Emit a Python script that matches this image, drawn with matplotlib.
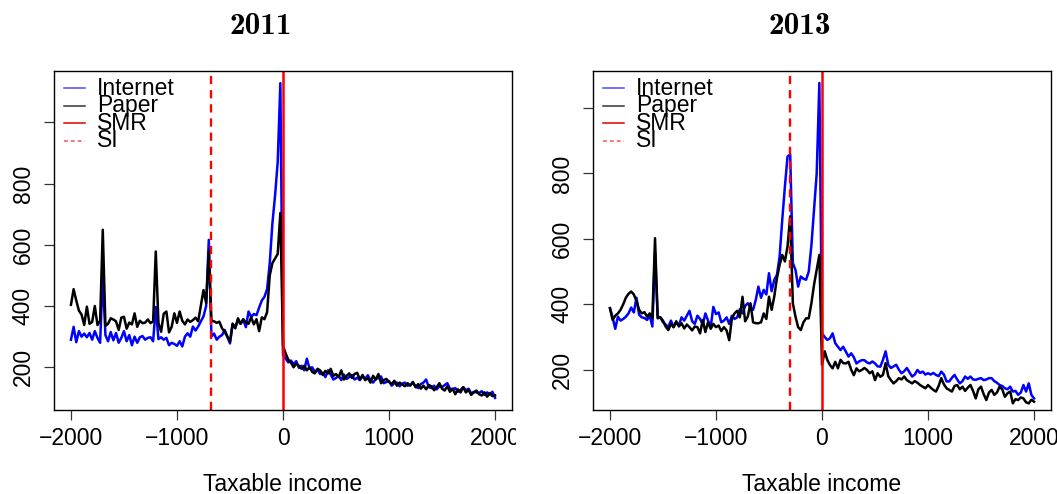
import os
import numpy as np
import matplotlib as mpl
import matplotlib.pyplot as plt
from matplotlib.font_manager import FontProperties
from matplotlib.transforms import Bbox, TransformedBbox

plt.rcParams['font.family'] = ['Liberation Sans', 'DejaVu Sans']

# bin centres of taxable income (relative to threshold)
income = np.arange(-2000, 2001, 25)

internet_2011 = [
    290, 332, 282, 318, 300, 310, 298, 312,
    290, 318, 296, 280, 500, 305, 285, 315,
    288, 312, 280, 296, 318, 285, 305, 272,
    300, 280, 298, 302, 290, 296, 298, 285,
    397, 292, 298, 290, 296, 272, 280, 276,
    270, 285, 268, 300, 311, 300, 333, 320,
    333, 350, 366, 400, 616, 300, 310, 290,
    300, 305, 322, 300, 278, 342, 331, 352,
    342, 355, 331, 382, 364, 374, 370, 395,
    418, 430, 455, 540, 670, 760, 870, 1128,
    240, 228, 216, 222, 210, 220, 198, 205,
    190, 228, 196, 200, 185, 192, 178, 182,
    168, 190, 176, 160, 165, 172, 158, 176,
    162, 168, 175, 160, 166, 158, 170, 162,
    174, 158, 150, 162, 165, 170, 148, 152,
    155, 140, 148, 150, 138, 146, 150, 140,
    142, 150, 138, 132, 145, 150, 160, 135,
    132, 140, 128, 138, 135, 142, 148, 130,
    128, 132, 120, 126, 135, 125, 130, 115,
    120, 118, 116, 122, 110, 118, 112, 120,
    100]

paper_2011 = [
    404, 455, 418, 385, 372, 338, 398, 342,
    348, 400, 338, 352, 649, 335, 342, 360,
    356, 350, 322, 362, 365, 326, 346, 340,
    376, 332, 352, 344, 346, 356, 344, 350,
    578, 345, 316, 375, 382, 314, 332, 376,
    345, 382, 352, 340, 356, 348, 354, 362,
    350, 400, 452, 410, 578, 352, 350, 345,
    349, 327, 316, 300, 284, 342, 327, 360,
    342, 357, 346, 342, 363, 340, 357, 318,
    363, 357, 380, 500, 540, 555, 570, 704,
    270, 245, 225, 215, 200, 212, 205, 195,
    205, 190, 200, 185, 180, 195, 190, 175,
    188, 180, 195, 172, 178, 168, 190, 160,
    172, 180, 165, 178, 182, 160, 175, 158,
    165, 150, 172, 160, 178, 148, 158, 162,
    152, 145, 156, 140, 150, 144, 138, 148,
    140, 152, 135, 145, 130, 140, 128, 142,
    138, 125, 135, 148, 130, 124, 138, 120,
    130, 112, 128, 118, 135, 118, 126, 110,
    118, 124, 112, 108, 118, 104, 115, 106,
    108]

internet_2013 = [
    388, 360, 325, 362, 350, 355, 362, 372,
    390, 375, 420, 368, 360, 358, 352, 365,
    332, 560, 362, 360, 345, 338, 330, 350,
    330, 345, 335, 360, 350, 365, 380, 348,
    340, 365, 355, 338, 372, 350, 330, 392,
    370, 375, 345, 350, 360, 340, 365, 355,
    360, 385, 372, 395, 403, 390, 383, 413,
    454, 420, 444, 430, 495, 440, 475, 490,
    546, 658, 760, 852, 858, 526, 505, 454,
    485, 478, 475, 500, 580, 690, 800, 1077,
    311, 300, 291, 296, 311, 281, 270, 260,
    270, 255, 240, 250, 238, 219, 225, 229,
    229, 222, 219, 225, 219, 210, 209, 230,
    256, 215, 205, 210, 215, 200, 189, 195,
    205, 192, 179, 185, 199, 190, 194, 185,
    189, 185, 190, 184, 180, 194, 185, 164,
    164, 175, 184, 170, 158, 165, 179, 172,
    179, 170, 169, 172, 174, 168, 170, 174,
    174, 165, 160, 153, 150, 143, 140, 148,
    133, 135, 123, 130, 153, 133, 158, 123,
    112]

paper_2013 = [
    388, 352, 365, 372, 383, 400, 420, 432,
    439, 430, 410, 383, 372, 376, 362, 372,
    357, 602, 357, 360, 350, 332, 321, 340,
    330, 348, 332, 342, 326, 338, 330, 320,
    332, 330, 311, 352, 315, 345, 325, 340,
    330, 335, 318, 330, 320, 290, 357, 372,
    380, 360, 423, 348, 362, 403, 345, 342,
    342, 345, 372, 355, 423, 383, 424, 480,
    520, 551, 531, 577, 669, 403, 362, 330,
    321, 345, 357, 357, 403, 460, 505, 551,
    214, 256, 230, 214, 204, 224, 204, 230,
    220, 219, 224, 200, 183, 204, 195, 199,
    205, 199, 189, 195, 168, 189, 178, 184,
    220, 180, 168, 158, 165, 174, 170, 179,
    168, 163, 158, 165, 160, 153, 148, 143,
    153, 145, 138, 133, 150, 174, 155, 143,
    138, 133, 150, 153, 140, 148, 135, 145,
    153, 135, 112, 140, 148, 125, 107, 130,
    138, 123, 130, 148, 140, 117, 128, 133,
    97, 110, 107, 115, 112, 100, 97, 108,
    102]

si_2011 = -680
si_2013 = -300
smr = 0

legend_labels = ['Internet', 'Paper', 'SMR', 'SI']

W, H = 1057, 494
fig = plt.figure(figsize=(W / 100, H / 100), dpi=100)

FS = 16.5
# Computer Modern bold shipped with matplotlib, for the LaTeX-looking titles
title_font = FontProperties(
    fname=os.path.join(mpl.get_data_path(), 'fonts', 'ttf', 'cmb10.ttf'),
    size=22.5)


def panel(left_px, ylim, internet, paper, si, title, title_x, clip_right):
    ax = fig.add_axes([left_px / W, (H - 410) / H, 458 / W, 339.5 / H])
    ax.plot(income, internet, color='#0000ff', lw=1.8)
    ax.plot(income, paper, color='black', lw=1.8)
    ax.axvline(si, color='#ff0000', lw=1.7, ls=(0, (3.5, 2.5)))
    ax.axvline(smr, color='#ff0000', lw=1.8)
    ax.set_xlim(-2160, 2160)
    ax.set_ylim(*ylim)
    ax.set_xticks([-2000, -1000, 0, 1000, 2000])
    ax.set_yticks([200, 400, 600, 800, 1000])
    ax.set_yticklabels(['200', '400', '600', '800', ''])
    ax.tick_params(direction='out', length=7, width=0.9, labelsize=FS,
                   color='#333333')
    ax.tick_params(axis='x', pad=5)
    ax.tick_params(axis='y', pad=7)
    for lbl in ax.get_yticklabels():
        lbl.set_rotation(90)
        lbl.set_va('center')
    for sp in ax.spines.values():
        sp.set_linewidth(1.0)
    ax.set_xlabel('Taxable income', fontsize=FS)
    ax.xaxis.set_label_coords(0.5, -0.185)

    # clip the tick labels at the edge of the panel region
    cb = TransformedBbox(Bbox([[0, 0], [clip_right / W, 1]]), fig.transFigure)
    for lbl in ax.get_xticklabels():
        lbl.set_clip_box(cb)
        lbl.set_clip_on(True)

    # legend drawn by hand (tight R-style rows)
    styles = [('#4a4aff', '-'), ('#333333', '-'), ('#dd0000', '-'),
              ('#ff5050', (0, (2.5, 2)))]
    for k, (lab, (col, ls)) in enumerate(zip(legend_labels, styles)):
        y = (410 - (88 + 17.5 * k)) / 339.5
        ax.plot([10 / 458, 31 / 458], [y, y], transform=ax.transAxes,
                color=col, ls=ls, lw=1.1, clip_on=False)
        ax.text(43 / 458, y, lab, transform=ax.transAxes, fontsize=FS,
                va='center', ha='left')

    fig.text(title_x / W, 1 - 26 / H, title, fontproperties=title_font,
             ha='center', va='center')
    return ax


panel(54, (60.5, 1169), internet_2011, paper_2011, si_2011, '2011', 261, 516)
panel(593, (76.6, 1115), internet_2013, paper_2013, si_2013, '2013', 800, 1057)

fig.savefig('out.png', dpi=100)
